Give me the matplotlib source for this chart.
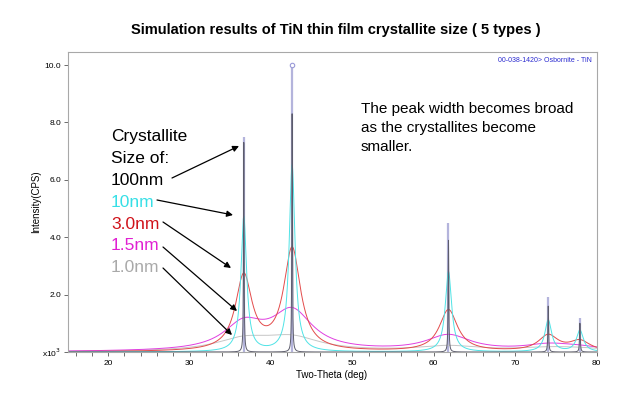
import numpy as np
import matplotlib
matplotlib.use('Agg')
import matplotlib.pyplot as plt

plt.rcParams['font.family'] = ['Liberation Sans', 'DejaVu Sans']

# TiN (Osbornite) reflections, 2-theta in degrees
peak_pos = [36.66, 42.60, 61.81, 74.07, 77.96]
stick_height = [7.5, 10.0, 4.5, 1.9, 1.2]

sizes = ['100nm', '10nm', '3.0nm', '1.5nm', '1.0nm']
# FWHM (deg) of the first reflection for every crystallite size
fwhm_111 = [0.084, 0.84, 2.46, 6.0, 8.4]
# peak heights (x10^3 CPS)
heights = {
    '100nm': [7.3, 8.3, 3.9, 1.6, 1.0],
    '10nm': [4.7, 6.5, 2.8, 1.1, 0.75],
    '3.0nm': [2.6, 3.55, 1.45, 0.55, 0.35],
    '1.5nm': [0.9, 1.35, 0.55, 0.2, 0.12],
    '1.0nm': [0.4, 0.45, 0.18, 0.1, 0.08],
}

line_colors = {'100nm': '#5c5c6c', '10nm': '#4fe3e6', '3.0nm': '#e34b4b',
               '1.5nm': '#e03fe0', '1.0nm': '#c6c6c6'}
text_colors = {'100nm': 'black', '10nm': '#36dfe6', '3.0nm': '#d0121a',
               '1.5nm': '#e020d2', '1.0nm': '#a9a9a9'}

ytick_vals = [0, 2, 4, 6, 8, 10]
ytick_labels = ['x10$^3$', '2.0', '4.0', '6.0', '8.0', '10.0']


def profile(x, pos, hts, fwhm0):
    y = np.zeros_like(x)
    c0 = np.cos(np.radians(pos[0] / 2))
    for p, h in zip(pos, hts):
        gamma = 0.5 * fwhm0 * c0 / np.cos(np.radians(p / 2))
        y += h / (1 + ((x - p) / gamma) ** 2)
    return y


def fx(px):
    return px / 630


def fy(py):
    return 1 - py / 396


fig = plt.figure(figsize=(6.3, 3.96), dpi=100)
ax = fig.add_axes([fx(67.5), fy(352), (596.5 - 67.5) / 630, (352 - 52) / 396])

x = np.arange(15, 80.0001, 0.004)

# reference pattern sticks
ax.vlines(peak_pos, 0, stick_height, color='#b4b4dc', lw=1.6, zorder=1)
ax.plot(peak_pos[1], stick_height[1], 'o', mfc='white', mec='#9a9ad8', ms=3.2, mew=0.8, zorder=5)

for size, w in reversed(list(zip(sizes, fwhm_111))):
    ax.plot(x, profile(x, peak_pos, heights[size], w), color=line_colors[size],
            lw=0.7, zorder=2)

ax.set_xlim(15, 80)
ax.set_ylim(0, (352 - 52) / 28.7)
ax.set_xticks(range(20, 81, 10))
ax.set_xticks(range(16, 81, 2), minor=True)
ax.set_yticks(ytick_vals, ytick_labels)
ax.tick_params(axis='both', which='both', direction='out', length=3, width=0.6,
               color='#555555', labelsize=6, pad=1.5)
ax.tick_params(axis='x', pad=3)
for s in ax.spines.values():
    s.set_color('#a8a8a8')
    s.set_linewidth(0.8)

ax.set_xlabel('Two-Theta (deg)', fontsize=7, labelpad=2)
ax.set_ylabel('Intensity(CPS)', fontsize=7, labelpad=1)

fig.text(fx(336), fy(30), 'Simulation results of TiN thin film crystallite size ( 5 types )',
         ha='center', va='center', fontsize=10.5, fontweight='bold')
fig.text(fx(592), fy(60), '00-038-1420> Osbornite - TiN', ha='right', va='center',
         fontsize=5, color='#2a2ad0')

for i, line in enumerate(['The peak width becomes broad', 'as the crystallites become', 'smaller.']):
    fig.text(fx(361), fy(113 + 19.2 * i), line, ha='left', va='baseline', fontsize=11)

# crystallite size legend with arrows
label_lines = ['Crystallite', 'Size of:'] + sizes
label_cols = ['black', 'black'] + [text_colors[s] for s in sizes]
for i, (line, col) in enumerate(zip(label_lines, label_cols)):
    fig.text(fx(111), fy(141 + 21.9 * i), line, ha='left', va='baseline',
             fontsize=12.5, color=col)

arrows = [((172, 178), (239, 146)), ((157, 200), (233, 215)), ((163, 222), (231, 268)),
          ((163, 247), (237, 311)), ((163, 268), (232, 335))]
for (sx, sy), (ex, ey) in arrows:
    ax.annotate('', xy=(fx(ex), fy(ey)), xytext=(fx(sx), fy(sy)),
                xycoords='figure fraction', textcoords='figure fraction',
                arrowprops=dict(arrowstyle='-|>', color='black', lw=0.9,
                                mutation_scale=9, shrinkA=0, shrinkB=0))

fig.savefig('out.png', dpi=100)
